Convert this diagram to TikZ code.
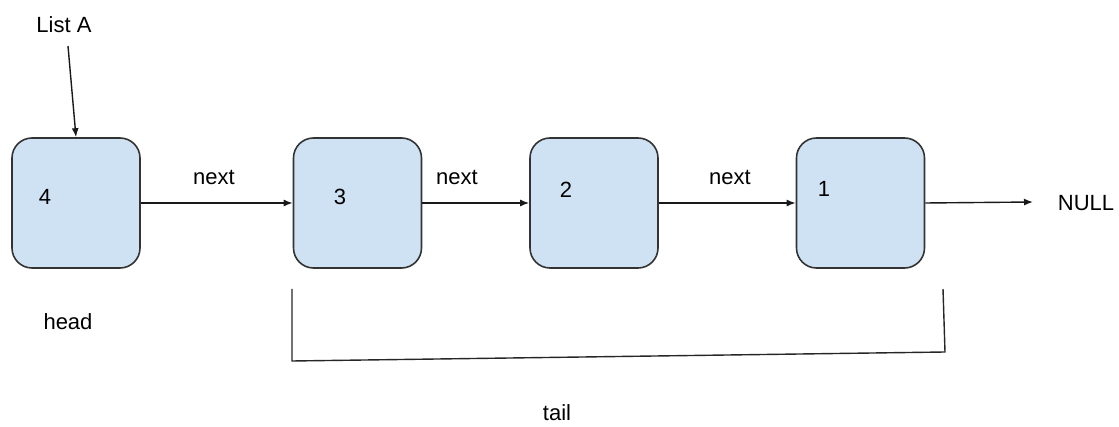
\documentclass[tikz,border=0pt]{standalone}
\usepackage{fontspec}
\setmainfont{Liberation Sans}
\usetikzlibrary{arrows.meta}
\definecolor{nodefill}{HTML}{CFE2F3}
\definecolor{nodeline}{HTML}{333333}
\tikzset{
  listnode/.style={draw=nodeline, fill=nodefill, line width=1.6pt,
    rounded corners=20pt, minimum width=128pt, minimum height=130pt,
    inner sep=0pt},
  lbl/.style={font=\fontsize{22}{26}\selectfont, inner sep=1pt},
  link/.style={draw=black!90, line width=1.4pt,
    -{Latex[length=9pt,width=7pt]}},
  plain/.style={draw=black!85, line width=1.4pt}
}
\begin{document}
\begin{tikzpicture}[x=1pt,y=-1pt]
  \useasboundingbox (0,0) rectangle (1119,427);

  % list nodes
  \node[listnode] (b4) at (76,203) {};
  \node[listnode] (b3) at (357.5,203) {};
  \node[listnode] (b2) at (594,203) {};
  \node[listnode] (b1) at (860.5,203) {};

  % stored values
  \node[lbl] (v4) at (45,197) {4};
  \node[lbl] (v3) at (340,197) {3};
  \node[lbl] (v2) at (566,190) {2};
  \node[lbl] (v1) at (824,189) {1};

  % next pointers
  \draw[link] (b4.east) -- (b3.west);
  \draw[link] (b3.east) -- (b2.west);
  \draw[link] (b2.east) -- (b1.west);
  \node[lbl] (n1) at (214,177) {next};
  \node[lbl] (n2) at (457,177) {next};
  \node[lbl] (n3) at (730,177) {next};

  % end of list
  \node[lbl] (null) at (1086,203) {NULL};
  \coordinate (nullend) at (1033,202);
  \draw[link] (b1.east) -- (nullend);

  % list head pointer
  \node[lbl] (la) at (64,25) {List A};
  \coordinate (lastart) at (68,46);
  \draw[link] (lastart) -- (b4.north);

  \node[lbl] (head) at (68,322) {head};

  % bracket spanning the tail
  \coordinate (t1) at (292,289);
  \coordinate (t2) at (292,361);
  \coordinate (t3) at (945,352);
  \coordinate (t4) at (943,289);
  \draw[plain] (t1) -- (t2) -- (t3) -- (t4);
  \node[lbl] (tail) at (557,413) {tail};
\end{tikzpicture}
\end{document}
